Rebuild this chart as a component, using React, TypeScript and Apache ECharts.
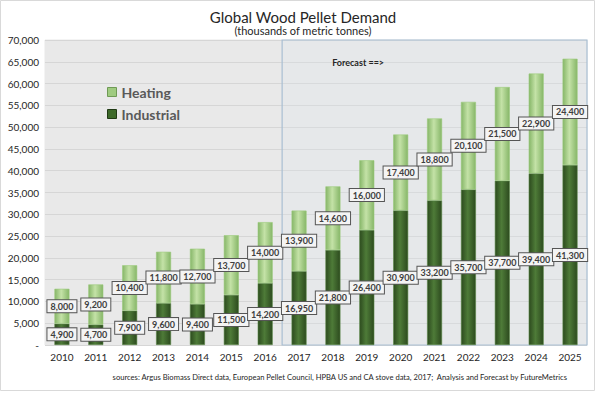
import React, { useEffect, useRef } from "react";
import * as echarts from "echarts";

const years = ["2010","2011","2012","2013","2014","2015","2016","2017","2018","2019","2020","2021","2022","2023","2024","2025"];
const industrial = [4900, 4700, 7900, 9600, 9400, 11500, 14200, 16950, 21800, 26400, 30900, 33200, 35700, 37700, 39400, 41300];
const heating = [8000, 9200, 10400, 11800, 12700, 13700, 14000, 13900, 14600, 16000, 17400, 18800, 20100, 21500, 22900, 24400];
const forecastStart = "2017";
const titleText = "Global Wood Pellet Demand";
const subtitleText = "(thousands of metric tonnes)";
const sourceText = "sources: Argus Biomass Direct data, European Pellet Council, HPBA US and CA stove data, 2017;  Analysis and Forecast by FutureMetrics";

const FONT = "Lato, 'Open Sans', sans-serif";

const fmt = (v: number) => (v === 0 ? "-" : v.toLocaleString("en-US"));

const grad = (edge: string, mid: string) =>
  new echarts.graphic.LinearGradient(0, 0, 1, 0, [
    { offset: 0, color: edge },
    { offset: 0.45, color: mid },
    { offset: 1, color: edge },
  ]);

const labelStyle = {
  show: true,
  position: "inside" as const,
  formatter: (p: any) => fmt(p.value),
  color: "#404040",
  fontSize: 9,
  fontWeight: "bold" as const,
  fontFamily: FONT,
  backgroundColor: "#f4f4f4",
  borderColor: "#555555",
  borderWidth: 1,
  padding: [2, 3, 1, 3],
};

export default function App() {
  const ref = useRef<HTMLDivElement>(null);
  useEffect(() => {
    if (!ref.current) return;
    const chart = echarts.init(ref.current, undefined, { renderer: "svg" });
    chart.setOption({
      animation: false,
      backgroundColor: "#ffffff",
      title: {
        text: titleText,
        subtext: subtitleText,
        left: 298,
        textAlign: "center",
        top: 4,
        itemGap: 1,
        textStyle: { fontFamily: FONT, fontSize: 15, fontWeight: "normal", color: "#262626" },
        subtextStyle: { fontFamily: FONT, fontSize: 11, color: "#262626" },
      },
      legend: {
        orient: "vertical",
        left: 102,
        top: 80,
        itemGap: 8,
        itemWidth: 9,
        itemHeight: 9,
        icon: "rect",
        data: [
          { name: "Heating", itemStyle: { color: "#9fcb80", borderColor: "#6f9a55", borderWidth: 1 } },
          { name: "Industrial", itemStyle: { color: "#3e6a2a", borderColor: "#203a14", borderWidth: 1 } },
        ],
        textStyle: { fontFamily: FONT, fontSize: 14, fontWeight: "bold", color: "#595959" },
      },
      grid: {
        left: 45,
        right: 13,
        top: 40,
        bottom: 50,
        show: true,
        backgroundColor: "#e9e9e9",
        borderColor: "#e9e9e9",
      },
      xAxis: {
        type: "category",
        data: years,
        axisLine: { show: false },
        axisTick: { show: false },
        axisLabel: { fontFamily: FONT, fontSize: 10, color: "#262626", margin: 7 },
      },
      yAxis: {
        type: "value",
        min: 0,
        max: 70000,
        interval: 5000,
        axisLine: { show: false },
        axisTick: { show: false },
        axisLabel: { fontFamily: FONT, fontSize: 10, color: "#262626", formatter: fmt, margin: 6 },
        splitLine: { lineStyle: { color: "#d6d6d6", width: 1 } },
      },
      series: [
        {
          name: "Industrial",
          type: "bar",
          stack: "total",
          barWidth: 15,
          data: industrial,
          itemStyle: { color: grad("#2c4a1e", "#4e7b38"), borderColor: "#5d8a48", borderWidth: 0.6 },
          label: labelStyle,
        },
        {
          name: "Heating",
          type: "bar",
          stack: "total",
          barWidth: 15,
          data: heating,
          itemStyle: { color: grad("#86b668", "#c4e2a7"), borderColor: "#9ccb7c", borderWidth: 0.6 },
          label: labelStyle,
        },
      ],
    });

    const x0 = chart.convertToPixel({ xAxisIndex: 0 }, forecastStart) as number;
    const x1 = chart.convertToPixel({ xAxisIndex: 0 }, years[years.length - 1]) as number;
    const band = (x1 - x0) / (years.length - 1 - years.indexOf(forecastStart));
    const yTop = chart.convertToPixel({ yAxisIndex: 0 }, 70000) as number;
    const yBot = chart.convertToPixel({ yAxisIndex: 0 }, 0) as number;
    const left = x0 - band / 2;
    const right = x1 + band / 2;

    chart.setOption({
      graphic: [
        {
          type: "rect",
          shape: { x: 0.5, y: 0.5, width: 594, height: 390 },
          style: { fill: "none", stroke: "#d9d9d9", lineWidth: 1 },
          silent: true,
        },
        {
          type: "rect",
          shape: { x: left, y: yTop, width: right - left, height: yBot - yTop },
          style: { fill: "rgba(225,232,240,0.25)", stroke: "#a9bfd3", lineWidth: 1.2 },
          z: 0,
          silent: true,
        },
        {
          type: "text",
          x: left + 50,
          y: yTop + 22,
          style: { text: "Forecast ==>", fontFamily: FONT, fontSize: 9, fontWeight: "bold", fill: "#262626", textVerticalAlign: "middle" },
        },
        {
          type: "text",
          x: 567,
          y: 377,
          style: { text: sourceText, fontFamily: FONT, fontSize: 7.6, fill: "#262626", textAlign: "right", textVerticalAlign: "middle" },
        },
      ],
    });

    return () => chart.dispose();
  }, []);
  return <div ref={ref} style={{ width: 600, height: 395, position: "absolute", left: 0, top: 0 }} />;
}
